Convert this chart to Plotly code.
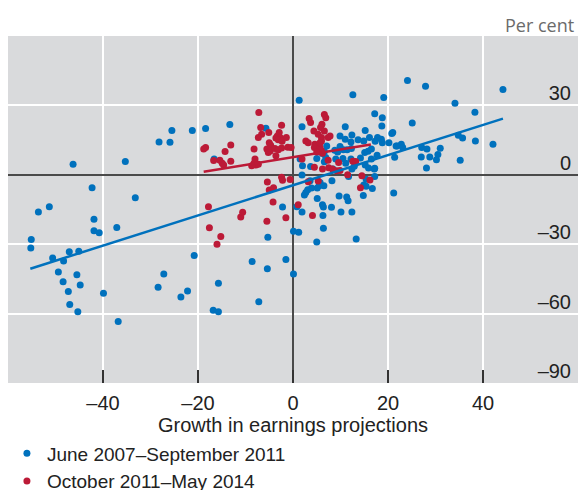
import plotly.graph_objects as go

# ---- data ----
blue_x = [-46.3, -35.3, -28.2, -25.9, -25.5, -21.2, -18.4, -13.3, -5.7, -16.6,
          -42.3, -33.2, -53.6, -51.3, -41.9, -41.9, -40.8, -37.1, -55.1, -55.2,
          -50.6, -48.3, -47.1, -45.1, -49.4, -45.5, -48.4, -44.8, -47.3, -47.0,
          -45.3, -39.9, -36.8, -20.8, -27.2, -28.4, -22.2, -23.6, -15.7, -8.6,
          -5.4, -1.5, 0.1, -7.2, -16.8, -15.7, -5.3, -2.2, 0.1, 1.2,
          0.8, 1.9, 2.4, 2.7, 3.1, 3.9, 5.1, 5.5, 6.5, 5.1,
          6.2, 6.4, 6.3, 6.4, 5.0, 8.1, 8.2, 9.7, 11.3, 11.6,
          10.1, 12.4, 13.3, 14.8, 14.9, 15.4, 16.7, 17.2, 17.1, 21.2,
          11.7, 15.4, 1.9, 3.6, 5.7, 1.3, 12.6, 19.1, 24.1, 27.9,
          44.2, 34.1, 38.3, 1.9, 17.2, 18.8, 18.7, 15.2, 11.0, 12.4,
          9.9, 11.0, 12.2, 14.9, 17.8, 18.6, 18.8, 20.2, 21.0, 20.8,
          25.1, 21.9, 22.8, 23.1, 21.4, 27.1, 28.2, 31.0, 27.0, 28.8,
          30.5, 30.2, 28.1, 35.2, 34.8, 35.7, 38.4, 42.1, 16.1, 13.7,
          12.3, 11.4, 9.9, 10.6, 9.4, 8.8, 7.1, 6.6, 5.0, 17.3,
          16.5, 15.1, 15.8, 21.7, 2.0, 3.7, 5.0, 6.6, 6.9, 6.2,
          9.0, 10.5, 11.1, 12.2, 14.2, 15.2, 16.5, 17.7, 15.9, 17.2,
          12.4, 12.9, 8.4, 1.5]
blue_y = [4.6, 5.8, 14.2, 14.1, 19.2, 19.1, 20.0, 21.7, 20.1, 6.8,
          -5.6, -9.9, -16.1, -13.8, -19.2, -24.2, -25.0, -22.8, -28.0, -31.6,
          -36.0, -37.3, -33.3, -33.0, -42.0, -43.2, -46.2, -47.6, -50.5, -56.1,
          -59.2, -51.2, -63.4, -34.9, -42.9, -48.6, -50.2, -52.8, -46.9, -37.5,
          -40.6, -36.6, -42.9, -54.9, -58.5, -59.2, -27.0, -13.9, -24.4, -24.8,
          -13.8, -16.1, -8.7, -7.6, -6.5, -5.7, -5.7, -4.7, -4.7, -10.2,
          -12.9, -13.9, -17.6, -23.1, -29.1, -14.0, -2.6, -9.2, -9.6, -11.2,
          -16.1, -16.1, -27.7, -8.9, -4.4, -5.0, -5.9, -0.7, 2.5, -7.9,
          -0.7, -1.9, -0.1, -2.6, -3.3, 32.2, 34.6, 33.4, 40.8, 38.3,
          36.9, 30.9, 27.0, 20.8, 26.4, 24.7, 21.1, 19.1, 20.8, 17.2,
          16.8, 15.4, 14.2, 14.6, 16.1, 15.4, 13.9, 13.9, 18.3, 17.9,
          22.4, 12.5, 13.2, 11.8, 7.6, 11.8, 11.1, 11.5, 7.7, 7.7,
          8.8, 6.5, 2.9, 6.3, 17.1, 15.9, 14.6, 13.2, 16.1, 15.1,
          11.4, 10.8, 12.2, 10.8, 9.9, 10.6, 12.5, 10.1, 12.2, 14.5,
          11.1, 9.6, 10.2, 12.5, 3.9, 3.6, 7.1, 5.6, 7.5, 9.2,
          6.8, 7.1, 5.0, 6.8, 7.3, 4.2, 6.8, 8.5, 2.9, 2.8,
          2.5, 3.7, 2.5, 6.8]

red_x = [-7.2, -6.8, -6.6, -7.3, -5.1, -2.4, -2.9, -3.3, -3.6, -2.6,
         -1.4, -3.1, -2.3, -5.0, -4.7, -5.5, -4.8, -5.2, -3.8, -3.1,
         -2.4, -1.1, -3.6, -8.2, -8.0, -8.2, -7.8, -7.3, -8.7, -13.1,
         -14.3, -13.1, -18.4, -18.8, -16.7, -15.4, -14.9, -14.6, -17.8, -17.6,
         -15.2, -16.0, -11.0, -10.6, -5.5, -1.5, -4.2, -5.4, -5.0, -4.1,
         -2.2, -0.6, 1.1, 3.2, 5.3, 4.1, 11.5, 14.5, 16.2, 14.2,
         6.6, 6.9, 3.4, 3.7, 6.1, 5.8, 6.6, 4.4, 5.3, 6.0,
         7.4, 7.8, 2.7, 3.2, 4.6, 5.3, 6.0, 5.5, 6.0, -0.4,
         1.9, 4.5, 6.2, 7.5, 8.3, 9.2, 9.9, 7.4, 9.6, 12.6,
         13.2, 4.5, 5.7, 5.0, 6.2, 5.7, -2.4]
red_y = [26.9, 20.4, 17.5, 16.1, 18.3, 21.4, 18.3, 16.8, 15.9, 15.9,
         16.1, 15.1, 14.5, 13.9, 12.8, 11.1, 10.3, 9.6, 11.4, 10.8,
         11.6, 11.9, 8.2, 11.1, 6.8, 5.0, 4.2, 4.6, 3.9, 12.9,
         10.1, 5.9, 11.8, 11.1, 6.2, 6.3, 5.0, 4.2, -13.8, -22.9,
         -26.7, -30.0, -18.2, -16.2, -20.1, -18.6, -11.8, -3.1, -6.6, -5.6,
         -2.4, -2.0, -12.9, -3.0, -2.7, -17.6, 0.0, -0.4, -2.3, -5.6,
         26.1, 24.7, 24.3, 22.6, 21.8, 20.4, 18.9, 18.9, 17.5, 16.1,
         16.1, 16.8, 14.6, 13.9, 13.2, 12.5, 14.6, 10.6, 10.3, 11.8,
         6.8, 3.3, 2.5, 3.0, 2.5, 1.7, 1.9, 6.3, 5.3, 5.9,
         5.8, 11.8, 11.8, 9.9, 9.3, 13.9, -1.1]

# fitted lines (end points)
blue_fit_x = [-55.3, 44.2]
blue_fit_y = [-40.6, 24.3]
red_fit_x = [-18.8, 16.4]
red_fit_y = [1.3, 13.1]

series_names = ["June 2007–September 2011", "October 2011–May 2014"]
x_ticks = [-40, -20, 0, 20, 40]
x_tick_labels = ["–40", "–20", "0", "20", "40"]
y_ticks = [-90, -60, -30, 0, 30]
y_tick_labels = ["–90", "–60", "–30", "0", "30"]
x_title = "Growth in earnings projections"
unit_label = "Per cent"

BLUE = "#0071BD"
RED = "#BC1A37"
FONT = "Liberation Sans, Arial, sans-serif"

fig = go.Figure()
fig.add_trace(go.Scatter(x=blue_x, y=blue_y, mode="markers", name=series_names[0],
                         marker=dict(color=BLUE, size=7, line=dict(width=0))))
fig.add_trace(go.Scatter(x=red_x, y=red_y, mode="markers", name=series_names[1],
                         marker=dict(color=RED, size=7, line=dict(width=0))))
fig.add_trace(go.Scatter(x=blue_fit_x, y=blue_fit_y, mode="lines", showlegend=False,
                         line=dict(color=BLUE, width=2.5), hoverinfo="skip"))
fig.add_trace(go.Scatter(x=red_fit_x, y=red_fit_y, mode="lines", showlegend=False,
                         line=dict(color=RED, width=2.5), hoverinfo="skip"))

fig.update_layout(
    width=578, height=490,
    margin=dict(l=8, r=0, t=36, b=107, autoexpand=False),
    paper_bgcolor="white",
    plot_bgcolor="#D9DADC",
    font=dict(family=FONT, size=20, color="#222"),
    showlegend=True,
    legend=dict(xref="container", yref="container", x=0.012, xanchor="left",
                y=0.1135, yanchor="top",
                font=dict(family=FONT, size=19, color="#222"),
                bgcolor="rgba(0,0,0,0)", tracegroupgap=0, itemwidth=30),
    xaxis=dict(range=[-60, 60], tickvals=x_ticks, ticktext=x_tick_labels,
               showgrid=True, gridcolor="white", gridwidth=1.5,
               zeroline=True, zerolinecolor="#4a4a4a", zerolinewidth=1.5,
               ticks="inside", ticklen=13, tickwidth=1.5, tickcolor="#333",
               ticklabelstandoff=6, automargin=False,
               tickfont=dict(family=FONT, size=20, color="#222"),
               title=dict(text=x_title, font=dict(family=FONT, size=20, color="#222"), standoff=4),
               showline=False, fixedrange=True),
    yaxis=dict(range=[-90, 60], tickvals=y_ticks, ticktext=y_tick_labels,
               side="right", ticklabelposition="inside", ticklabelshift=-12,
               ticklabelstandoff=4, automargin=False,
               showgrid=True, gridcolor="white", gridwidth=1.5,
               zeroline=True, zerolinecolor="#4a4a4a", zerolinewidth=1.5,
               ticks="", tickfont=dict(family=FONT, size=20, color="#222"),
               showline=False, fixedrange=True),
    annotations=[dict(text=unit_label, xref="paper", yref="paper", x=1, y=1.0317,
                      xanchor="right", yanchor="middle", xshift=-2, showarrow=False,
                      font=dict(family="Open Sans, sans-serif", size=18, color="#6b6b6b"))],
)

fig.write_html("out.html", config={"displayModeBar": False},
               post_script="document.body.style.margin='0';document.body.style.overflow='hidden';")
